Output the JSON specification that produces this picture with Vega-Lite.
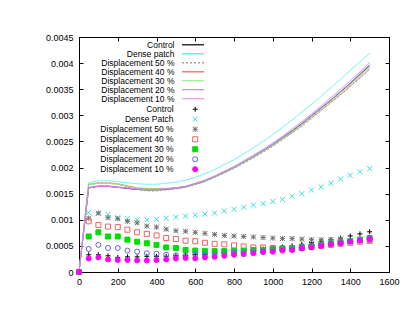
{
  "$schema": "https://vega.github.io/schema/vega-lite/v6.json",
  "width": 310,
  "height": 235,
  "autosize": {"type": "none"},
  "padding": {"left": 79, "top": 37, "right": 26, "bottom": 49},
  "background": "white",
  "config": {
    "view": {"stroke": "#000", "strokeWidth": 1},
    "font": "Liberation Sans",
    "axis": {"domain": false, "grid": false, "ticks": true, "tickSize": -4, "tickColor": "#000", "tickWidth": 1, "labelFont": "Liberation Sans", "labelFontSize": 9, "labelColor": "#000"},
    "legend": {"labelFont": "Liberation Sans", "labelFontSize": 8.5, "labelColor": "#000", "padding": 0, "rowPadding": 0, "labelAlign": "right", "symbolSize": 25}
  },
  "datasets": {
    "lines": [
      {"x":0,"Control":0,"Dense patch":0,"Displacement 50 %":0,"Displacement 40 %":0,"Displacement 30 %":0,"Displacement 20 %":0,"Displacement 10 %":0},
      {"x":50,"Control":0.00161,"Dense patch":0.00171,"Displacement 50 %":0.00167,"Displacement 40 %":0.00168,"Displacement 30 %":0.00167,"Displacement 20 %":0.00162,"Displacement 10 %":0.00161},
      {"x":100,"Control":0.00164,"Dense patch":0.00175,"Displacement 50 %":0.0017,"Displacement 40 %":0.00171,"Displacement 30 %":0.0017,"Displacement 20 %":0.00165,"Displacement 10 %":0.00164},
      {"x":150,"Control":0.00164,"Dense patch":0.00175,"Displacement 50 %":0.0017,"Displacement 40 %":0.00171,"Displacement 30 %":0.0017,"Displacement 20 %":0.00165,"Displacement 10 %":0.00164},
      {"x":200,"Control":0.00162,"Dense patch":0.00173,"Displacement 50 %":0.00168,"Displacement 40 %":0.00169,"Displacement 30 %":0.00168,"Displacement 20 %":0.00163,"Displacement 10 %":0.00162},
      {"x":250,"Control":0.0016,"Dense patch":0.00171,"Displacement 50 %":0.00163,"Displacement 40 %":0.00165,"Displacement 30 %":0.00164,"Displacement 20 %":0.00161,"Displacement 10 %":0.00161},
      {"x":300,"Control":0.00158,"Dense patch":0.00169,"Displacement 50 %":0.00158,"Displacement 40 %":0.00161,"Displacement 30 %":0.0016,"Displacement 20 %":0.00159,"Displacement 10 %":0.00159},
      {"x":350,"Control":0.00157,"Dense patch":0.00168,"Displacement 50 %":0.00155,"Displacement 40 %":0.0016,"Displacement 30 %":0.00159,"Displacement 20 %":0.00158,"Displacement 10 %":0.00158},
      {"x":400,"Control":0.00157,"Dense patch":0.00168,"Displacement 50 %":0.00155,"Displacement 40 %":0.0016,"Displacement 30 %":0.00159,"Displacement 20 %":0.00158,"Displacement 10 %":0.00158},
      {"x":450,"Control":0.00158,"Dense patch":0.0017,"Displacement 50 %":0.00157,"Displacement 40 %":0.0016,"Displacement 30 %":0.0016,"Displacement 20 %":0.00159,"Displacement 10 %":0.00159},
      {"x":500,"Control":0.0016,"Dense patch":0.00172,"Displacement 50 %":0.00159,"Displacement 40 %":0.00161,"Displacement 30 %":0.00161,"Displacement 20 %":0.00161,"Displacement 10 %":0.00161},
      {"x":550,"Control":0.00163,"Dense patch":0.00176,"Displacement 50 %":0.00162,"Displacement 40 %":0.00164,"Displacement 30 %":0.00164,"Displacement 20 %":0.00164,"Displacement 10 %":0.00164},
      {"x":600,"Control":0.00168,"Dense patch":0.00181,"Displacement 50 %":0.00167,"Displacement 40 %":0.00169,"Displacement 30 %":0.00168,"Displacement 20 %":0.00169,"Displacement 10 %":0.0017},
      {"x":650,"Control":0.00174,"Dense patch":0.00188,"Displacement 50 %":0.00173,"Displacement 40 %":0.00175,"Displacement 30 %":0.00174,"Displacement 20 %":0.00175,"Displacement 10 %":0.00176},
      {"x":700,"Control":0.00182,"Dense patch":0.00196,"Displacement 50 %":0.00181,"Displacement 40 %":0.00183,"Displacement 30 %":0.00182,"Displacement 20 %":0.00183,"Displacement 10 %":0.00184},
      {"x":750,"Control":0.00191,"Dense patch":0.00206,"Displacement 50 %":0.00189,"Displacement 40 %":0.00192,"Displacement 30 %":0.00191,"Displacement 20 %":0.00192,"Displacement 10 %":0.00193},
      {"x":800,"Control":0.002,"Dense patch":0.00215,"Displacement 50 %":0.00198,"Displacement 40 %":0.00201,"Displacement 30 %":0.002,"Displacement 20 %":0.00201,"Displacement 10 %":0.00202},
      {"x":850,"Control":0.0021,"Dense patch":0.00226,"Displacement 50 %":0.00208,"Displacement 40 %":0.0021,"Displacement 30 %":0.0021,"Displacement 20 %":0.00211,"Displacement 10 %":0.00213},
      {"x":900,"Control":0.00221,"Dense patch":0.00238,"Displacement 50 %":0.00218,"Displacement 40 %":0.0022,"Displacement 30 %":0.0022,"Displacement 20 %":0.00222,"Displacement 10 %":0.00224},
      {"x":950,"Control":0.00232,"Dense patch":0.0025,"Displacement 50 %":0.00229,"Displacement 40 %":0.00231,"Displacement 30 %":0.00231,"Displacement 20 %":0.00233,"Displacement 10 %":0.00235},
      {"x":1000,"Control":0.00244,"Dense patch":0.00263,"Displacement 50 %":0.0024,"Displacement 40 %":0.00242,"Displacement 30 %":0.00243,"Displacement 20 %":0.00245,"Displacement 10 %":0.00247},
      {"x":1050,"Control":0.00257,"Dense patch":0.00277,"Displacement 50 %":0.00253,"Displacement 40 %":0.00255,"Displacement 30 %":0.00256,"Displacement 20 %":0.00258,"Displacement 10 %":0.0026},
      {"x":1100,"Control":0.0027,"Dense patch":0.00291,"Displacement 50 %":0.00266,"Displacement 40 %":0.00267,"Displacement 30 %":0.00268,"Displacement 20 %":0.00271,"Displacement 10 %":0.00274},
      {"x":1150,"Control":0.00284,"Dense patch":0.00306,"Displacement 50 %":0.00279,"Displacement 40 %":0.00281,"Displacement 30 %":0.00282,"Displacement 20 %":0.00285,"Displacement 10 %":0.00288},
      {"x":1200,"Control":0.00299,"Dense patch":0.00321,"Displacement 50 %":0.00294,"Displacement 40 %":0.00295,"Displacement 30 %":0.00297,"Displacement 20 %":0.003,"Displacement 10 %":0.00303},
      {"x":1250,"Control":0.00314,"Dense patch":0.00337,"Displacement 50 %":0.00309,"Displacement 40 %":0.0031,"Displacement 30 %":0.00312,"Displacement 20 %":0.00315,"Displacement 10 %":0.00318},
      {"x":1300,"Control":0.00329,"Dense patch":0.00353,"Displacement 50 %":0.00324,"Displacement 40 %":0.00325,"Displacement 30 %":0.00327,"Displacement 20 %":0.0033,"Displacement 10 %":0.00334},
      {"x":1350,"Control":0.00345,"Dense patch":0.00369,"Displacement 50 %":0.00339,"Displacement 40 %":0.0034,"Displacement 30 %":0.00343,"Displacement 20 %":0.00346,"Displacement 10 %":0.0035},
      {"x":1400,"Control":0.00361,"Dense patch":0.00386,"Displacement 50 %":0.00355,"Displacement 40 %":0.00356,"Displacement 30 %":0.00358,"Displacement 20 %":0.00362,"Displacement 10 %":0.00366},
      {"x":1450,"Control":0.00378,"Dense patch":0.00402,"Displacement 50 %":0.00371,"Displacement 40 %":0.00372,"Displacement 30 %":0.00375,"Displacement 20 %":0.0038,"Displacement 10 %":0.00383},
      {"x":1500,"Control":0.00395,"Dense patch":0.00419,"Displacement 50 %":0.00388,"Displacement 40 %":0.00389,"Displacement 30 %":0.00392,"Displacement 20 %":0.00397,"Displacement 10 %":0.00401}
    ],
    "points": [
      {"x":0,"Control":0,"Dense Patch":0,"Displacement 50 %":0,"Displacement 40 %":0,"Displacement 30 %":0,"Displacement 20 %":0,"Displacement 10 %":0},
      {"x":50,"Control":0.00033,"Dense Patch":0.00114,"Displacement 50 %":0.00103,"Displacement 40 %":0.00097,"Displacement 30 %":0.00068,"Displacement 20 %":0.00044,"Displacement 10 %":0.00026},
      {"x":100,"Control":0.00033,"Dense Patch":0.00112,"Displacement 50 %":0.00113,"Displacement 40 %":0.0009,"Displacement 30 %":0.00076,"Displacement 20 %":0.00052,"Displacement 10 %":0.00028},
      {"x":150,"Control":0.00031,"Dense Patch":0.0011,"Displacement 50 %":0.00104,"Displacement 40 %":0.00087,"Displacement 30 %":0.00068,"Displacement 20 %":0.00046,"Displacement 10 %":0.00024},
      {"x":200,"Control":0.00028,"Dense Patch":0.00104,"Displacement 50 %":0.00102,"Displacement 40 %":0.00086,"Displacement 30 %":0.00068,"Displacement 20 %":0.00046,"Displacement 10 %":0.00023},
      {"x":250,"Control":0.00029,"Dense Patch":0.00102,"Displacement 50 %":0.00097,"Displacement 40 %":0.00081,"Displacement 30 %":0.00062,"Displacement 20 %":0.00041,"Displacement 10 %":0.00023},
      {"x":300,"Control":0.00029,"Dense Patch":0.001,"Displacement 50 %":0.00094,"Displacement 40 %":0.00076,"Displacement 30 %":0.00058,"Displacement 20 %":0.00039,"Displacement 10 %":0.00022},
      {"x":350,"Control":0.0003,"Dense Patch":0.001,"Displacement 50 %":0.00088,"Displacement 40 %":0.00073,"Displacement 30 %":0.00055,"Displacement 20 %":0.00036,"Displacement 10 %":0.00022},
      {"x":400,"Control":0.0003,"Dense Patch":0.00101,"Displacement 50 %":0.00086,"Displacement 40 %":0.0007,"Displacement 30 %":0.00052,"Displacement 20 %":0.00035,"Displacement 10 %":0.00023},
      {"x":450,"Control":0.0003,"Dense Patch":0.00103,"Displacement 50 %":0.00082,"Displacement 40 %":0.00065,"Displacement 30 %":0.00047,"Displacement 20 %":0.00033,"Displacement 10 %":0.00024},
      {"x":500,"Control":0.00031,"Dense Patch":0.00105,"Displacement 50 %":0.00079,"Displacement 40 %":0.00063,"Displacement 30 %":0.00046,"Displacement 20 %":0.00032,"Displacement 10 %":0.00026},
      {"x":550,"Control":0.00032,"Dense Patch":0.00107,"Displacement 50 %":0.00078,"Displacement 40 %":0.0006,"Displacement 30 %":0.00042,"Displacement 20 %":0.00031,"Displacement 10 %":0.00027},
      {"x":600,"Control":0.00033,"Dense Patch":0.00109,"Displacement 50 %":0.00076,"Displacement 40 %":0.00059,"Displacement 30 %":0.00041,"Displacement 20 %":0.00033,"Displacement 10 %":0.00026},
      {"x":650,"Control":0.00034,"Dense Patch":0.00111,"Displacement 50 %":0.00074,"Displacement 40 %":0.00056,"Displacement 30 %":0.0004,"Displacement 20 %":0.00033,"Displacement 10 %":0.00028},
      {"x":700,"Control":0.00035,"Dense Patch":0.00113,"Displacement 50 %":0.00072,"Displacement 40 %":0.00054,"Displacement 30 %":0.0004,"Displacement 20 %":0.00034,"Displacement 10 %":0.00029},
      {"x":750,"Control":0.00037,"Dense Patch":0.00117,"Displacement 50 %":0.0007,"Displacement 40 %":0.00053,"Displacement 30 %":0.0004,"Displacement 20 %":0.00036,"Displacement 10 %":0.00031},
      {"x":800,"Control":0.00039,"Dense Patch":0.0012,"Displacement 50 %":0.00069,"Displacement 40 %":0.00051,"Displacement 30 %":0.0004,"Displacement 20 %":0.00037,"Displacement 10 %":0.00033},
      {"x":850,"Control":0.0004,"Dense Patch":0.00124,"Displacement 50 %":0.00068,"Displacement 40 %":0.00049,"Displacement 30 %":0.00041,"Displacement 20 %":0.00038,"Displacement 10 %":0.00034},
      {"x":900,"Control":0.00042,"Dense Patch":0.00128,"Displacement 50 %":0.00067,"Displacement 40 %":0.00047,"Displacement 30 %":0.00042,"Displacement 20 %":0.0004,"Displacement 10 %":0.00036},
      {"x":950,"Control":0.00044,"Dense Patch":0.00131,"Displacement 50 %":0.00066,"Displacement 40 %":0.00047,"Displacement 30 %":0.00042,"Displacement 20 %":0.00041,"Displacement 10 %":0.00038},
      {"x":1000,"Control":0.00046,"Dense Patch":0.00135,"Displacement 50 %":0.00065,"Displacement 40 %":0.00046,"Displacement 30 %":0.00044,"Displacement 20 %":0.00043,"Displacement 10 %":0.00039},
      {"x":1050,"Control":0.00048,"Dense Patch":0.00139,"Displacement 50 %":0.00064,"Displacement 40 %":0.00045,"Displacement 30 %":0.00045,"Displacement 20 %":0.00045,"Displacement 10 %":0.00041},
      {"x":1100,"Control":0.0005,"Dense Patch":0.00145,"Displacement 50 %":0.00064,"Displacement 40 %":0.00045,"Displacement 30 %":0.00045,"Displacement 20 %":0.00046,"Displacement 10 %":0.00042},
      {"x":1150,"Control":0.00053,"Dense Patch":0.0015,"Displacement 50 %":0.00063,"Displacement 40 %":0.00046,"Displacement 30 %":0.00047,"Displacement 20 %":0.00048,"Displacement 10 %":0.00045},
      {"x":1200,"Control":0.00056,"Dense Patch":0.00157,"Displacement 50 %":0.00062,"Displacement 40 %":0.00048,"Displacement 30 %":0.00049,"Displacement 20 %":0.0005,"Displacement 10 %":0.00047},
      {"x":1250,"Control":0.00059,"Dense Patch":0.00163,"Displacement 50 %":0.00062,"Displacement 40 %":0.0005,"Displacement 30 %":0.00052,"Displacement 20 %":0.00052,"Displacement 10 %":0.0005},
      {"x":1300,"Control":0.00062,"Dense Patch":0.0017,"Displacement 50 %":0.00062,"Displacement 40 %":0.00052,"Displacement 30 %":0.00055,"Displacement 20 %":0.00055,"Displacement 10 %":0.00053},
      {"x":1350,"Control":0.00065,"Dense Patch":0.00178,"Displacement 50 %":0.00063,"Displacement 40 %":0.00054,"Displacement 30 %":0.00057,"Displacement 20 %":0.00057,"Displacement 10 %":0.00055},
      {"x":1400,"Control":0.00069,"Dense Patch":0.00185,"Displacement 50 %":0.0006,"Displacement 40 %":0.00056,"Displacement 30 %":0.00059,"Displacement 20 %":0.00059,"Displacement 10 %":0.00058},
      {"x":1450,"Control":0.00073,"Dense Patch":0.00192,"Displacement 50 %":0.0006,"Displacement 40 %":0.00058,"Displacement 30 %":0.00062,"Displacement 20 %":0.00062,"Displacement 10 %":0.0006},
      {"x":1500,"Control":0.00077,"Dense Patch":0.00198,"Displacement 50 %":0.00059,"Displacement 40 %":0.0006,"Displacement 30 %":0.00065,"Displacement 20 %":0.00065,"Displacement 10 %":0.00063}
    ]
  },
  "resolve": {"axis": {"x": "independent", "y": "independent"}},
  "layer": [
    {
      "data": {"name": "lines"},
      "transform": [{"fold": ["Control", "Dense patch", "Displacement 50 %", "Displacement 40 %", "Displacement 30 %", "Displacement 20 %", "Displacement 10 %"], "as": ["s", "y"]}],
      "mark": {"type": "line", "strokeWidth": 1},
      "encoding": {
        "x": {"field": "x", "type": "quantitative", "scale": {"domain": [0, 1600], "nice": false, "zero": false},
              "axis": {"orient": "bottom", "title": null, "values": [0,200,400,600,800,1000,1200,1400,1600], "format": "d", "labelPadding": 9, "labelFlush": false}},
        "y": {"field": "y", "type": "quantitative", "scale": {"domain": [0, 0.0045], "nice": false, "zero": false},
              "axis": {"orient": "left", "title": null, "values": [0,0.0005,0.001,0.0015,0.002,0.0025,0.003,0.0035,0.004,0.0045], "format": "~g", "labelPadding": 10, "labelFlush": false}},
        "color": {"field": "s", "type": "nominal",
          "scale": {"domain": ["Control", "Dense patch", "Displacement 50 %", "Displacement 40 %", "Displacement 30 %", "Displacement 20 %", "Displacement 10 %"],
                    "range": ["#333333", "#66eeee", "#a0a0a0", "#f47c7c", "#7cf07c", "#8c8cf4", "#ee7cee"]},
          "legend": {"title": null, "orient": "none", "legendX": 102.7, "legendY": 3.5, "symbolType": "M-4,0H4", "symbolSize": 30.25, "labelOffset": -22.8, "symbolOffset": 7.1}},
        "strokeDash": {"field": "s", "type": "nominal",
          "scale": {"domain": ["Control", "Dense patch", "Displacement 50 %", "Displacement 40 %", "Displacement 30 %", "Displacement 20 %", "Displacement 10 %"],
                    "range": [[1,0],[1,0],[2,2],[1,0],[1,0],[1,0],[1,0]]},
          "legend": {"title": null, "orient": "none", "legendX": 102.7, "legendY": 3.5, "symbolType": "M-4,0H4", "symbolSize": 30.25, "labelOffset": -22.8, "symbolOffset": 7.1}},
        "strokeWidth": {"field": "s", "type": "nominal",
          "scale": {"domain": ["Control", "Dense patch", "Displacement 50 %", "Displacement 40 %", "Displacement 30 %", "Displacement 20 %", "Displacement 10 %"],
                    "range": [1.6, 1, 1, 1, 1, 1, 1]},
          "legend": {"title": null, "orient": "none", "legendX": 102.7, "legendY": 3.5, "symbolType": "M-4,0H4", "symbolSize": 30.25, "labelOffset": -22.8, "symbolOffset": 7.1}}
      }
    },
    {
      "data": {"name": "points"},
      "transform": [{"fold": ["Control", "Dense Patch", "Displacement 50 %", "Displacement 40 %", "Displacement 30 %", "Displacement 20 %", "Displacement 10 %"], "as": ["s", "y"]}],
      "mark": {"type": "point", "strokeWidth": 1, "opacity": 1},
      "encoding": {
        "x": {"field": "x", "type": "quantitative", "axis": null},
        "y": {"field": "y", "type": "quantitative", "axis": null},
        "shape": {"field": "s", "type": "nominal",
          "scale": {"domain": ["Control", "Dense Patch", "Displacement 50 %", "Displacement 40 %", "Displacement 30 %", "Displacement 20 %", "Displacement 10 %"],
                    "range": ["M-1,0L1,0M0,-1L0,1", "M-1,-1L1,1M1,-1L-1,1", "M-1,0L1,0M0,-1L0,1M-1,-1L1,1M1,-1L-1,1", "square", "square", "circle", "circle"]},
          "legend": {"title": null, "orient": "none", "legendX": 102.7, "legendY": 68.0, "symbolStrokeWidth": 1, "symbolOffset": 9.25, "labelOffset": -25.85}},
        "size": {"field": "s", "type": "nominal",
          "scale": {"domain": ["Control", "Dense Patch", "Displacement 50 %", "Displacement 40 %", "Displacement 30 %", "Displacement 20 %", "Displacement 10 %"],
                    "range": [25, 25, 25, 25, 25, 25, 25]},
          "legend": {"title": null, "orient": "none", "legendX": 102.7, "legendY": 68.0, "symbolStrokeWidth": 1, "symbolOffset": 9.25, "labelOffset": -25.85}},
        "stroke": {"field": "s", "type": "nominal",
          "scale": {"domain": ["Control", "Dense Patch", "Displacement 50 %", "Displacement 40 %", "Displacement 30 %", "Displacement 20 %", "Displacement 10 %"],
                    "range": ["#000000", "#33dddd", "#707070", "#f06060", "#00dd00", "#6060f0", "#ff00ff"]},
          "legend": {"title": null, "orient": "none", "legendX": 102.7, "legendY": 68.0, "symbolStrokeWidth": 1, "symbolOffset": 9.25, "labelOffset": -25.85}},
        "fill": {"field": "s", "type": "nominal",
          "scale": {"domain": ["Control", "Dense Patch", "Displacement 50 %", "Displacement 40 %", "Displacement 30 %", "Displacement 20 %", "Displacement 10 %"],
                    "range": ["transparent", "transparent", "transparent", "transparent", "#00dd00", "transparent", "#ff00ff"]},
          "legend": {"title": null, "orient": "none", "legendX": 102.7, "legendY": 68.0, "symbolStrokeWidth": 1, "symbolOffset": 9.25, "labelOffset": -25.85}}
      }
    },
    {
      "data": {"name": "points"},
      "mark": {"type": "point", "opacity": 0},
      "encoding": {
        "x": {"field": "x", "type": "quantitative", "axis": {"orient": "top", "title": null, "labels": false, "values": [0,200,400,600,800,1000,1200,1400,1600]}},
        "y": {"field": "Control", "type": "quantitative", "axis": {"orient": "right", "title": null, "labels": false, "values": [0,0.0005,0.001,0.0015,0.002,0.0025,0.003,0.0035,0.004,0.0045]}}
      }
    }
  ]
}
